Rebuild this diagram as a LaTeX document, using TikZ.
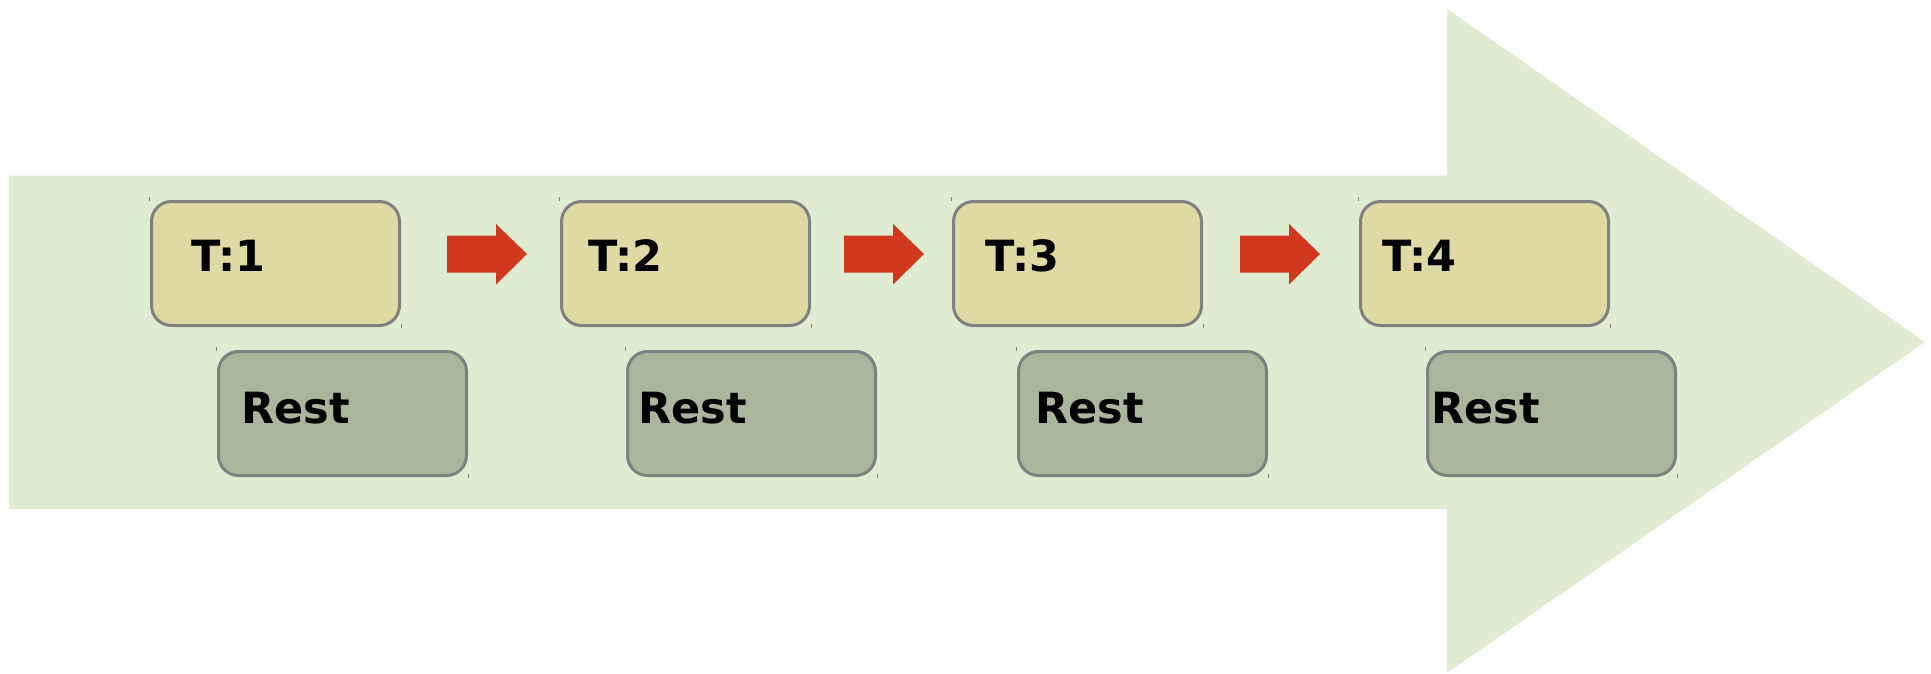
\documentclass[tikz,border=0pt]{standalone}
\usepackage{fontspec}
\setmainfont{DejaVu Sans}
\definecolor{bigarrow}{RGB}{224,236,210}
\definecolor{tfill}{RGB}{223,217,163}
\definecolor{rfill}{RGB}{169,182,156}
\definecolor{bord}{RGB}{128,128,128}
\definecolor{redarr}{RGB}{208,57,30}
\tikzset{
  tbox/.style={draw=bord, line width=3pt, fill=tfill, rounded corners=20pt, anchor=north west, minimum width=248pt, minimum height=124pt, inner sep=0pt},
  rbox/.style={draw=bord, line width=3pt, fill=rfill, rounded corners=20pt, anchor=north west, minimum width=248pt, minimum height=124pt, inner sep=0pt},
  lbl/.style={anchor=base west, inner sep=0pt, font=\fontsize{43}{43}\selectfont\bfseries},
  redarrow/.style={fill=redarr},
  tick/.style={draw=bord, line width=0.8pt}
}
\begin{document}
\begin{tikzpicture}[x=1pt,y=-1pt]
\useasboundingbox (0,0) rectangle (1931,673);
% big background arrow
\fill[bigarrow] (8.6,175.5) -- (1447,175.5) -- (1447,8.6) -- (1925,342) -- (1447,673) -- (1447,509) -- (8.6,509) -- cycle;
% boxes
\foreach \i/\tx/\rx in {1/150/217, 2/560/626, 3/952/1017, 4/1359/1426}{
  \node[tbox] (t\i) at (\tx,200) {};
  \node[rbox] (r\i) at (\rx,350) {};
  \draw[tick] (\tx-1,197) -- (\tx-1,200.5);
  \draw[tick] (\tx+251,324) -- (\tx+251,327.5);
  \draw[tick] (\rx-1,347) -- (\rx-1,350.5);
  \draw[tick] (\rx+251,474) -- (\rx+251,477.5);
}
% labels
\node[lbl] (l1) at (191,271) {T:1};
\node[lbl] (l2) at (588,271) {T:2};
\node[lbl] (l3) at (985,271) {T:3};
\node[lbl] (l4) at (1382,271) {T:4};
\node[lbl] (m1) at (241,423) {Rest};
\node[lbl] (m2) at (638,423) {Rest};
\node[lbl] (m3) at (1035,423) {Rest};
\node[lbl] (m4) at (1431,423) {Rest};
% red arrows
\foreach \x in {447, 844, 1240}{
  \fill[redarrow] (\x,235.5) -- (\x+49,235.5) -- (\x+49,224) -- (\x+80,254) -- (\x+49,284.5) -- (\x+49,272.5) -- (\x,272.5) -- cycle;
}
\end{tikzpicture}
\end{document}
